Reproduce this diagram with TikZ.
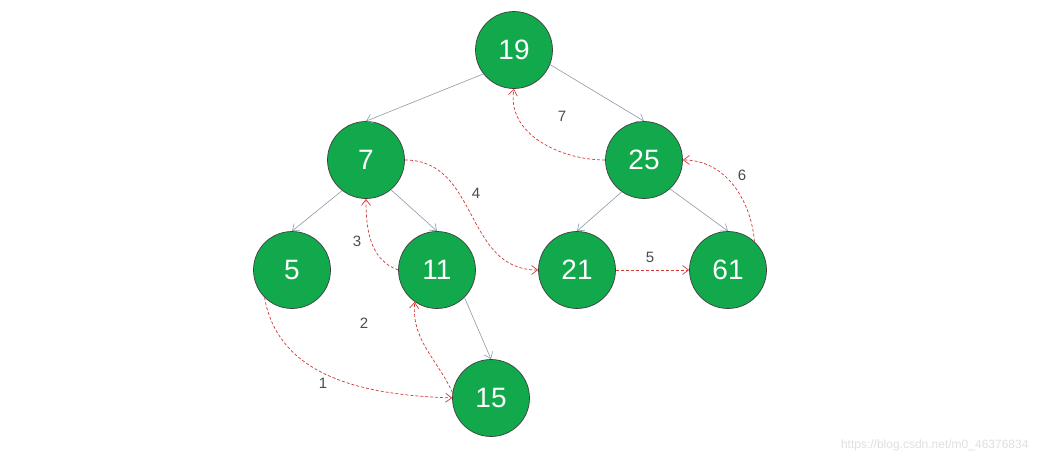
\documentclass[tikz,border=0pt]{standalone}
\usepackage{fontspec}
\setmainfont{Liberation Sans}
\usetikzlibrary{arrows.meta}
\definecolor{nodegreen}{HTML}{12A84C}
\definecolor{edgegray}{HTML}{8C9BAA}
\definecolor{threadred}{HTML}{D23A3A}
\begin{document}
\begin{tikzpicture}[x=1pt,y=-1pt,
  tn/.style={circle,draw=black!75,line width=0.7pt,fill=nodegreen,minimum size=77pt,inner sep=0pt,text=white,font=\fontsize{28}{28}\selectfont},
  treeedge/.style={draw=edgegray,line width=0.6pt,-{Straight Barb[length=6pt,width=9pt]}},
  thread/.style={draw=threadred,line width=0.7pt,dash pattern=on 3pt off 2pt,-{Straight Barb[length=6pt,width=9pt]}},
  lbl/.style={text=black!70,font=\fontsize{15}{15}\selectfont}]
\useasboundingbox[fill=white] (0,0) rectangle (1041,466);
\node[tn] (n19) at (514,50) {19};
\node[tn] (n7) at (366,160) {7};
\node[tn] (n25) at (644,160) {25};
\node[tn] (n5) at (292,270) {5};
\node[tn] (n11) at (437,270) {11};
\node[tn] (n21) at (577,270) {21};
\node[tn] (n61) at (728,270) {61};
\node[tn] (n15) at (491,398) {15};
% tree edges
\draw[treeedge] (n19.218) -- (n7.north);
\draw[treeedge] (n19.-22) -- (n25.north);
\draw[treeedge] (n7.232) -- (n5.north);
\draw[treeedge] (n7.-50) -- (n11.north);
\draw[treeedge] (n25.235) -- (n21.north);
\draw[treeedge] (n25.-48) -- (n61.north);
\draw[treeedge] (n11.-45) -- (n15.north);
% threads
\draw[thread] (n5.225) to[out=-80,in=178] (n15.west);
\draw[thread] (n15.172) to[out=115,in=-95] (n11.235);
\draw[thread] (n11.west) to[out=160,in=-90] (n7.south);
\draw[thread] (n7.east) to[out=0,in=180,looseness=1.1] (n21.west);
\draw[thread] (n21.east) -- (n61.west);
\draw[thread] (n61.47) to[out=95,in=0] (n25.east);
\draw[thread] (n25.west) to[out=180,in=-100] (n19.south);
% labels
\node[lbl] (l1) at (323,383) {1};
\node[lbl] (l2) at (364,323) {2};
\node[lbl] (l3) at (357,241) {3};
\node[lbl] (l4) at (476,193) {4};
\node[lbl] (l5) at (650,257) {5};
\node[lbl] (l6) at (742,175) {6};
\node[lbl] (l7) at (562,116) {7};
\node[text=black!12,font=\fontsize{12}{12}\selectfont,anchor=east] (wm) at (1032,445) {https://blog.csdn.net/m0\_46376834};
\end{tikzpicture}
\end{document}
